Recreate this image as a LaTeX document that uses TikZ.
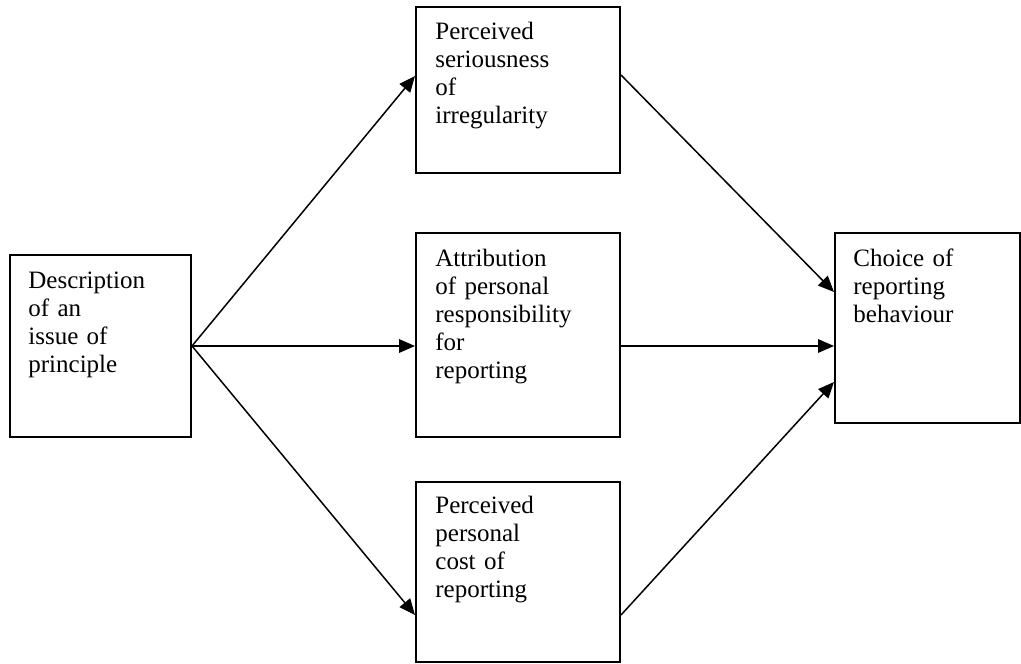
\documentclass[tikz,border=0pt]{standalone}
\usepackage{fontspec}
\setmainfont{Liberation Serif}
\usetikzlibrary{arrows.meta,calc}
\begin{document}
\begin{tikzpicture}[x=0.5pt,y=-0.5pt,
  box/.style={draw,line width=1pt,rectangle,inner sep=0pt},
  boxtext/.style={anchor=base west,inner sep=0pt,text width=95pt,align=left,
    font=\fontsize{12.5}{14}\selectfont},
  link/.style={line width=0.75pt,-{Triangle[length=8pt,width=6.8pt]}}]
  \useasboundingbox (0,0) rectangle (1021,663);

  % boxes
  \node[box,minimum width=90.5pt,minimum height=91pt] (L) at (100.5,346) {};
  \node[box,minimum width=102pt,minimum height=83pt] (T) at (518,90) {};
  \node[box,minimum width=102pt,minimum height=102pt] (M) at (518,335) {};
  \node[box,minimum width=102pt,minimum height=90pt] (B) at (518,572) {};
  \node[box,minimum width=92.5pt,minimum height=95pt] (R) at (927.5,328) {};

  % texts
  \node[boxtext] (Lt) at ($(L.north west)+(19,34)$) {Description\\of an\\issue of\\principle};
  \node[boxtext] (Tt) at ($(T.north west)+(20,34)$) {Perceived\\seriousness\\of\\irregularity};
  \node[boxtext] (Mt) at ($(M.north west)+(20,34)$) {Attribution\\of personal\\responsibility\\for\\reporting};
  \node[boxtext] (Bt) at ($(B.north west)+(20,32)$) {Perceived\\personal\\cost of\\reporting};
  \node[boxtext] (Rt) at ($(R.north west)+(19,34)$) {Choice of\\reporting\\behaviour};

  % connector end points on the box sides
  \coordinate (Lout) at ($(L.north east)+(0,92)$);
  \coordinate (Tin)  at ($(T.north west)+(0,70)$);
  \coordinate (Tout) at ($(T.north east)+(0,69)$);
  \coordinate (Min)  at ($(M.north west)+(0,114)$);
  \coordinate (Mout) at ($(M.north east)+(0,114)$);
  \coordinate (Bin)  at ($(B.north west)+(0,134)$);
  \coordinate (Bout) at ($(B.north east)+(0,134)$);
  \coordinate (Rin1) at ($(R.north west)+(0,60)$);
  \coordinate (Rin2) at ($(R.north west)+(0,114)$);
  \coordinate (Rin3) at ($(R.north west)+(0,150)$);

  % connectors
  \draw[link] (Lout) -- (Tin);
  \draw[link] (Lout) -- (Min);
  \draw[link] (Lout) -- (Bin);
  \draw[link] (Tout) -- (Rin1);
  \draw[link] (Mout) -- (Rin2);
  \draw[link] (Bout) -- (Rin3);
\end{tikzpicture}
\end{document}
